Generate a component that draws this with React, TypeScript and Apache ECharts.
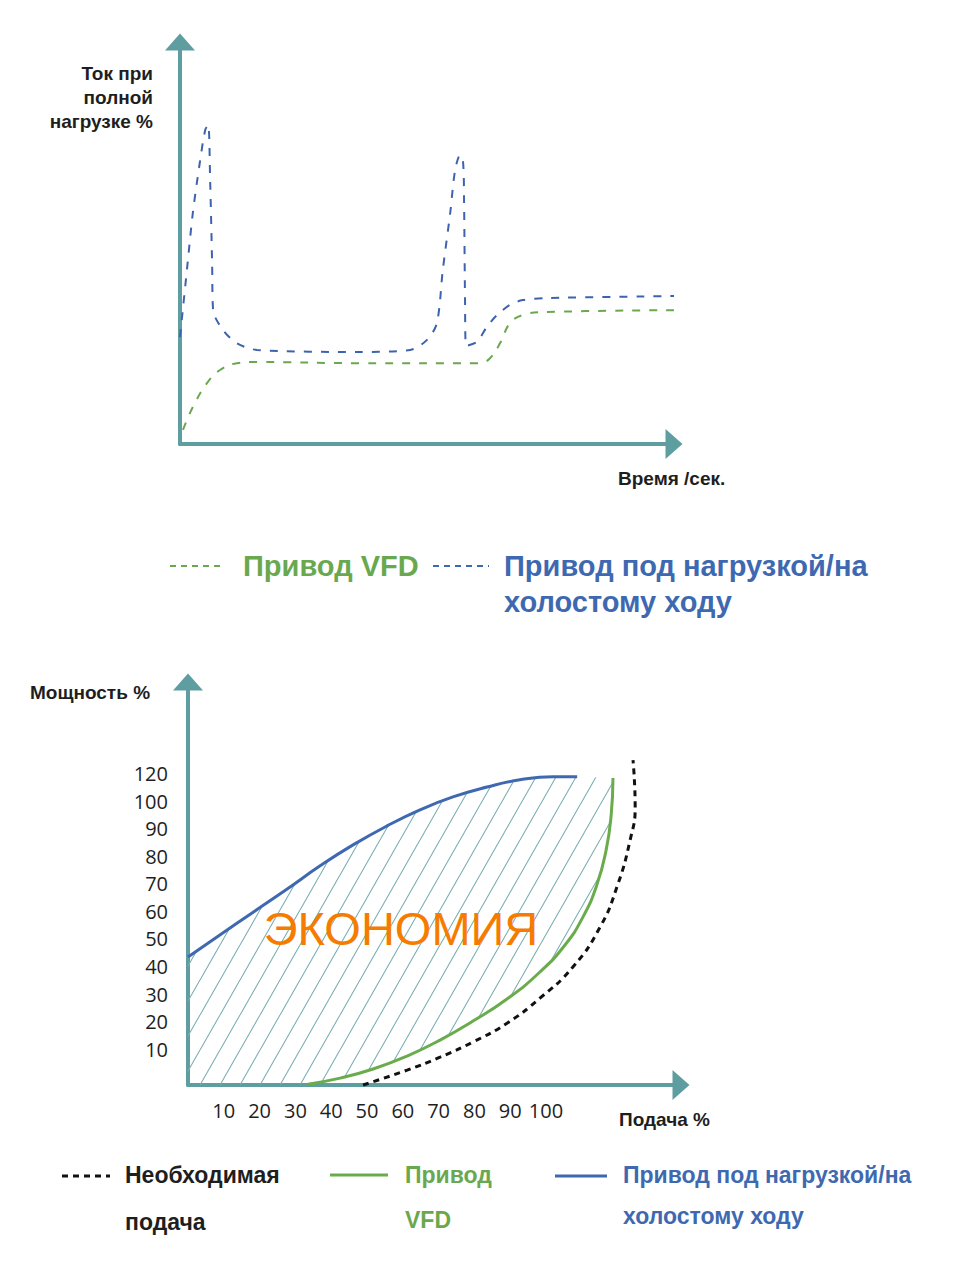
import React, { useEffect, useRef } from "react";
import * as echarts from "echarts";

// ---------- Top chart: current (% of full load) vs time (schematic units) ----------
const loadTime = [0, 1.4, 2.6, 4.0, 5.1, 5.7, 6.1, 6.5, 6.7, 8.7, 11.5, 15.6, 36.4, 46.6, 50.0, 52.0, 53.2, 54.7, 55.7, 56.7, 57.3, 57.5, 57.7, 57.9, 60.1, 62.1, 64.2, 66.8, 69.4, 74.3, 100];
const loadCurrent = [26.6, 43.3, 57.5, 69.9, 78.1, 79.4, 65.7, 45.0, 33.3, 28.4, 25.1, 23.4, 22.9, 23.4, 25.9, 30.1, 43.3, 57.5, 68.2, 71.9, 70.1, 60.7, 35.8, 24.4, 25.4, 29.1, 32.1, 34.6, 35.8, 36.3, 36.8];
const vfdTime = [0.6, 2.6, 5.5, 8.1, 11.5, 15.6, 36.4, 60.7, 62.8, 64.8, 66.8, 69.4, 73.5, 100];
const vfdCurrent = [3.5, 9.2, 15.2, 18.4, 20.1, 20.4, 20.1, 20.1, 21.4, 25.1, 30.1, 32.1, 32.8, 33.3];

// ---------- Bottom chart: power % vs flow % ----------
const flowTickValues = [10, 20, 30, 40, 50, 60, 70, 80, 90, 100];
const flowTickLabels = ["10", "20", "30", "40", "50", "60", "70", "80", "90", "100"];
const powerTickValues = [10, 20, 30, 40, 50, 60, 70, 80, 90, 100, 110];
const powerTickLabels = ["10", "20", "30", "40", "50", "60", "70", "80", "90", "100", "120"];

const onOffFlow = [0, 8.9, 18.2, 27.7, 36.9, 46.1, 55.6, 64.8, 74.0, 83.5, 92.7, 102.0, 108.7];
const onOffPower = [43.4, 51.4, 59.7, 68.1, 76.5, 84.1, 91.0, 96.8, 101.5, 105.1, 107.7, 108.8, 108.8];
const vfdFlow = [33.5, 42.5, 51.7, 61.2, 70.4, 79.6, 89.1, 98.3, 105.3, 110.3, 114.2, 116.8, 118.2, 118.7];
const vfdPower = [-2.7, -0.5, 2.8, 7.5, 13.3, 20.2, 28.2, 38.0, 47.8, 57.9, 69.6, 82.3, 95.0, 108.4];
const requiredFlow = [48.9, 61.2, 70.4, 79.6, 89.1, 98.3, 107.5, 115.1, 119.8, 123.5, 124.9, 124.3];
const requiredPower = [-3, 2.4, 7.1, 12.6, 19.4, 28.5, 39.8, 54.3, 68.8, 85.9, 97.9, 114.9];

const zip = (a: number[], b: number[]) => a.map((v, i) => [v, b[i]]);

const AXIS = "#5f9ea0";
const GREEN = "#6aa84f";
const BLUE = "#3e69b1";
const DARK = "#1e1e1e";
const SANS = '"Liberation Sans", Arial, sans-serif';

export default function App() {
  const ref = useRef<HTMLDivElement>(null);
  useEffect(() => {
    if (!ref.current) return;
    const chart = echarts.init(ref.current, undefined, { renderer: "svg" });

    const c = document.createElement("canvas");
    c.width = 20;
    c.height = 35;
    const ctx = c.getContext("2d")!;
    ctx.strokeStyle = "#7aaeb0";
    ctx.lineWidth = 1.1;
    ctx.beginPath();
    for (const dx of [-20, 0, 20]) {
      ctx.moveTo(dx, 35);
      ctx.lineTo(dx + 20, 0);
    }
    ctx.stroke();
    const hatch = { image: c, repeat: "repeat" };

    const yMin2 = -3;

    const axisLine = {
      show: true,
      onZero: false,
      symbol: ["none", "triangle"],
      symbolSize: [30, 17],
      lineStyle: { color: AXIS, width: 4 },
    };

    const option: any = {
      animation: false,
      grid: [
        { left: 180, top: 42, width: 494, height: 402 },
        { left: 188, top: 682, width: 493, height: 403 },
      ],
      xAxis: [
        {
          gridIndex: 0, type: "value", min: 0, max: 100,
          axisLine, axisTick: { show: false }, axisLabel: { show: false }, splitLine: { show: false },
        },
        {
          gridIndex: 1, type: "value", min: 0, max: 137.7,
          axisLine, axisTick: { show: false }, splitLine: { show: false },
          axisLabel: {
            customValues: flowTickValues,
            formatter: (v: number) => flowTickLabels[flowTickValues.indexOf(v)] ?? "",
            fontFamily: '"Open Sans", sans-serif', fontSize: 20, color: DARK, margin: 15,
          },
        },
      ],
      yAxis: [
        {
          gridIndex: 0, type: "value", min: 0, max: 100,
          axisLine, axisTick: { show: false }, axisLabel: { show: false }, splitLine: { show: false },
        },
        {
          gridIndex: 1, type: "value", min: yMin2, max: 143.2,
          axisLine, axisTick: { show: false }, splitLine: { show: false },
          axisLabel: {
            customValues: powerTickValues,
            formatter: (v: number) => powerTickLabels[powerTickValues.indexOf(v)] ?? "",
            fontFamily: '"Open Sans", sans-serif', fontSize: 20, color: DARK, margin: 20,
          },
        },
      ],
      series: [
        {
          type: "line", xAxisIndex: 0, yAxisIndex: 0, data: zip(loadTime, loadCurrent),
          showSymbol: false, smooth: 0.3, clip: false,
          lineStyle: { color: "#3d63ae", width: 2, type: [8, 9] },
        },
        {
          type: "line", xAxisIndex: 0, yAxisIndex: 0, data: zip(vfdTime, vfdCurrent),
          showSymbol: false, smooth: 0.4, clip: false,
          lineStyle: { color: GREEN, width: 2, type: [8, 9] },
        },
        {
          type: "custom", xAxisIndex: 1, yAxisIndex: 1, data: [[0, 0]], silent: true, z: 1,
          renderItem: (_p: any, api: any) => {
            const pts: number[][] = [];
            for (let i = 0; i < onOffFlow.length; i++) pts.push(api.coord([onOffFlow[i], onOffPower[i]]));
            for (let i = vfdFlow.length - 1; i >= 0; i--) pts.push(api.coord([vfdFlow[i], vfdPower[i]]));
            pts.push(api.coord([0, yMin2]));
            return { type: "polygon", shape: { points: pts }, style: { fill: hatch, stroke: null } };
          },
        },
        {
          type: "line", xAxisIndex: 1, yAxisIndex: 1, data: zip(requiredFlow, requiredPower),
          showSymbol: false, smooth: 0.5, clip: false, z: 3,
          lineStyle: { color: "#111", width: 3, type: [6, 5] },
        },
        {
          type: "line", xAxisIndex: 1, yAxisIndex: 1, data: zip(vfdFlow, vfdPower),
          showSymbol: false, smooth: 0.5, clip: false, z: 4,
          lineStyle: { color: "#6aac4c", width: 3 },
        },
        {
          type: "line", xAxisIndex: 1, yAxisIndex: 1, data: zip(onOffFlow, onOffPower),
          showSymbol: false, smooth: 0.5, clip: false, z: 4,
          lineStyle: { color: BLUE, width: 3 },
        },
      ],
      graphic: [
        {
          type: "text", z: 100, x: 153, y: 61,
          style: { text: "Ток при\nполной\nнагрузке %", align: "right", verticalAlign: "top", lineHeight: 24, fill: DARK, font: `bold 19px ${SANS}` },
        },
        {
          type: "text", z: 100, x: 618, y: 478,
          style: { text: "Время /сек.", align: "left", verticalAlign: "middle", fill: DARK, font: `bold 19px ${SANS}` },
        },
        { type: "line", z: 100, shape: { x1: 170, y1: 566, x2: 224, y2: 566 }, style: { stroke: GREEN, lineWidth: 2, lineDash: [6, 5] } },
        {
          type: "text", z: 100, x: 243, y: 566,
          style: { text: "Привод VFD", align: "left", verticalAlign: "middle", fill: GREEN, font: `bold 29px ${SANS}` },
        },
        { type: "line", z: 100, shape: { x1: 433, y1: 566, x2: 489, y2: 566 }, style: { stroke: BLUE, lineWidth: 2, lineDash: [6, 5] } },
        {
          type: "text", z: 100, x: 504, y: 548,
          style: { text: "Привод под нагрузкой/на\nхолостому ходу", align: "left", verticalAlign: "top", lineHeight: 36, fill: BLUE, font: `bold 29px ${SANS}` },
        },
        {
          type: "text", z: 100, x: 30, y: 692,
          style: { text: "Мощность %", align: "left", verticalAlign: "middle", fill: DARK, font: `bold 19px ${SANS}` },
        },
        {
          type: "text", z: 100, x: 619, y: 1119,
          style: { text: "Подача %", align: "left", verticalAlign: "middle", fill: DARK, font: `bold 19px ${SANS}` },
        },
        {
          type: "text", z: 100, x: 401, y: 928,
          style: { text: "ЭКОНОМИЯ", align: "center", verticalAlign: "middle", fill: "#f57c00", font: `47px ${SANS}` },
        },
        { type: "line", z: 100, shape: { x1: 62, y1: 1176, x2: 110, y2: 1176 }, style: { stroke: "#111", lineWidth: 3, lineDash: [6, 5] } },
        {
          type: "text", z: 100, x: 125, y: 1151,
          style: { text: "Необходимая\nподача", align: "left", verticalAlign: "top", lineHeight: 47, fill: DARK, font: `bold 23px ${SANS}` },
        },
        { type: "line", z: 100, shape: { x1: 330, y1: 1175, x2: 388, y2: 1175 }, style: { stroke: "#6aac4c", lineWidth: 3 } },
        {
          type: "text", z: 100, x: 405, y: 1152,
          style: { text: "Привод\nVFD", align: "left", verticalAlign: "top", lineHeight: 45, fill: GREEN, font: `bold 23px ${SANS}` },
        },
        { type: "line", z: 100, shape: { x1: 555, y1: 1176, x2: 607, y2: 1176 }, style: { stroke: BLUE, lineWidth: 3 } },
        {
          type: "text", z: 100, x: 623, y: 1154,
          style: { text: "Привод под нагрузкой/на\nхолостому ходу", align: "left", verticalAlign: "top", lineHeight: 41, fill: BLUE, font: `bold 23px ${SANS}` },
        },
      ],
    };
    chart.setOption(option);
    return () => chart.dispose();
  }, []);
  return <div ref={ref} style={{ position: "absolute", left: 0, top: 0, width: 960, height: 1286, background: "#fff" }} />;
}
